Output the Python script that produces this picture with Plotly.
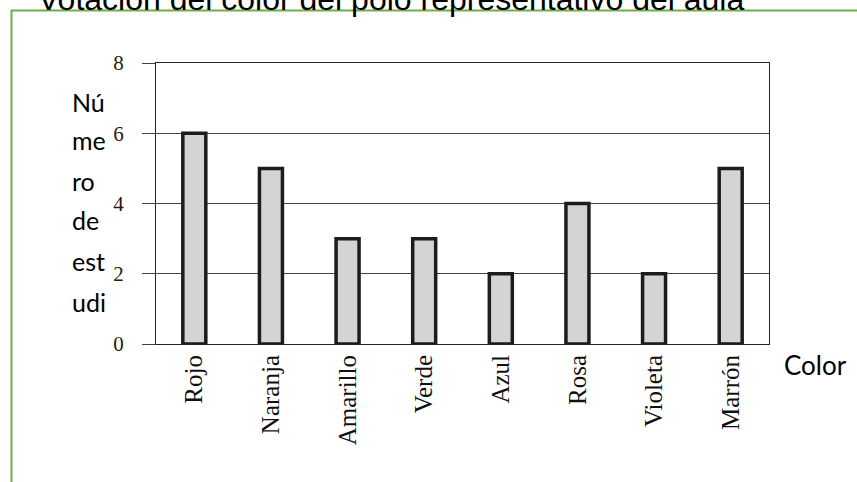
import plotly.graph_objects as go

categories = ["Rojo", "Naranja", "Amarillo", "Verde", "Azul", "Rosa", "Violeta", "Marrón"]
votes = [6, 5, 3, 3, 2, 4, 2, 5]
y_ticks = [0, 2, 4, 6, 8]
title_text = "Votación del color del polo representativo del aula"
x_title = "Color"
y_title_parts = ["Nú", "me", "ro", "de", "est", "udi"]

W, H = 857, 482
L, R, T, B = 156, 88, 63, 138
pw, ph = W - L - R, H - T - B

def px_x(px):
    return (px - L) / pw

def px_y(py):
    return (H - B - py) / ph

fig = go.Figure()
fig.add_trace(go.Bar(
    x=categories, y=votes,
    marker=dict(color="#d4d4d4", line=dict(color="#1c1c1c", width=3.5)),
    hoverinfo="skip",
))

annotations = [
    dict(text=title_text, x=px_x(391), y=px_y(-1), xref="paper", yref="paper",
         xanchor="center", yanchor="middle", showarrow=False,
         font=dict(family="Liberation Sans, Arial", size=32, color="#000")),
    dict(text=x_title, x=px_x(782), y=px_y(365), xref="paper", yref="paper",
         xanchor="left", yanchor="middle", showarrow=False,
         font=dict(family="Lato, Open Sans", size=26, color="#000")),
]
centers = [102, 140, 181, 220, 261, 302]
for part, cy in zip(y_title_parts, centers):
    annotations.append(dict(text=part, x=px_x(70), y=px_y(cy), xref="paper", yref="paper",
                            xanchor="left", yanchor="middle", showarrow=False,
                            font=dict(family="Lato, Open Sans", size=25, color="#000")))

fig.update_layout(
    width=W, height=H,
    margin=dict(l=L, r=R, t=T, b=B),
    paper_bgcolor="white", plot_bgcolor="white",
    bargap=0.7,
    showlegend=False,
    annotations=annotations,
    shapes=[dict(type="rect", xref="paper", yref="paper",
                 x0=px_x(11.5), x1=px_x(870), y0=px_y(500), y1=px_y(10.5),
                 line=dict(color="#70ad47", width=2), fillcolor="rgba(0,0,0,0)", layer="below")],
    xaxis=dict(
        showline=True, mirror=True, linecolor="#222", linewidth=1,
        showgrid=False, ticks="", tickangle=-90,
        tickfont=dict(family="Liberation Serif, Times New Roman, serif", size=25, color="#111"),
    ),
    yaxis=dict(
        range=[0, 8], tickvals=y_ticks, ticktext=[str(v) for v in y_ticks],
        showline=True, mirror=True, linecolor="#222", linewidth=1,
        showgrid=True, gridcolor="#444", gridwidth=1,
        ticks="outside", ticklen=13, tickcolor="#444", tickwidth=1,
        ticklabelstandoff=14,
        tickfont=dict(family="Liberation Serif, Times New Roman, serif", size=21, color="#2a1a10"),
        zeroline=False,
    ),
)

fig.write_html("out.html")
